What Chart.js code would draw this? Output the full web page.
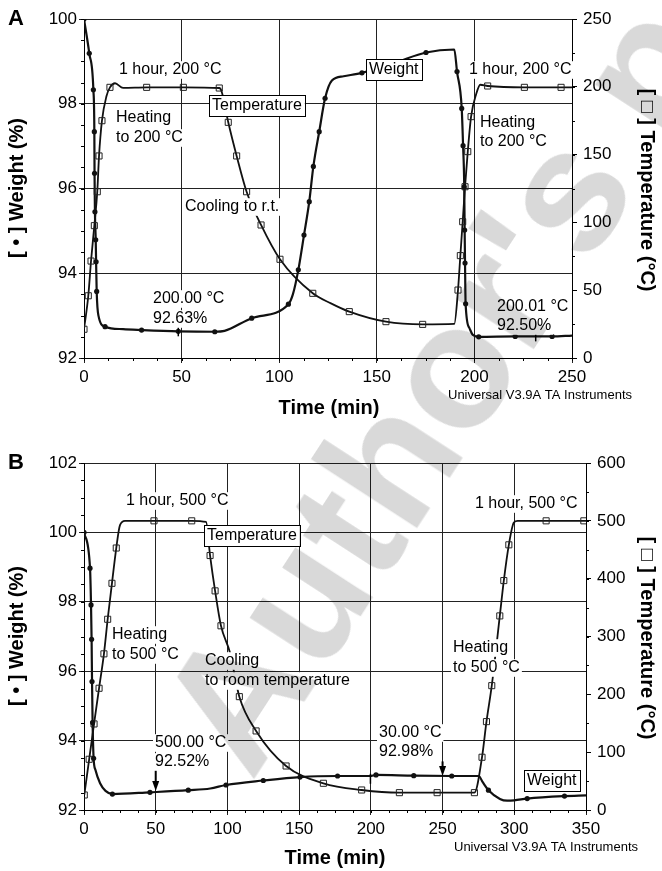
<!DOCTYPE html>
<html>
<head>
<meta charset="utf-8">
<script src="https://cdn.jsdelivr.net/npm/chart.js@4.4.1/dist/chart.umd.min.js"></script>
<style>
  body { margin: 0; background: #fff; width: 662px; height: 871px; position: relative; overflow: hidden; }
  canvas { position: absolute; left: 0; }
  #graficoA { top: 0; }
  #graficoB { top: 432px; }
  #marca {
    position: absolute; left: 252px; top: 635px;
    font: bold 175px 'Liberation Sans', Arial, sans-serif; line-height: 1;
    color: #d9d9d9; white-space: nowrap;
    transform-origin: 0 148px; transform: rotate(-57deg);
    mix-blend-mode: multiply; pointer-events: none;
  }
</style>
</head>
<body>
<canvas id="graficoA" width="662" height="432"></canvas>
<canvas id="graficoB" width="662" height="439"></canvas>
<div id="marca">Author's personal copy</div>
<script>
// ---- painel A (200 °C) ----
const tempoPesoA = [0, 2.7, 4.8, 5.3, 5.4, 5.6, 6.0, 6.2, 6.5, 7.4, 10.8, 20, 29.5, 48.3, 67, 72, 85.9, 104.7, 107, 109.8, 112.7, 115.4, 117.5, 120.5, 123.5, 127, 133, 142.4, 160, 175.2, 189.7, 191.1, 193.5, 194.2, 194.8, 195.0, 195.2, 195.5, 197.4, 199.1, 202.2, 220.9, 239.8, 250];
const pesoA = [100, 99.19, 98.33, 97.34, 96.36, 95.45, 94.79, 94.27, 93.57, 93.0, 92.74, 92.68, 92.66, 92.63, 92.62, 92.64, 92.94, 93.27, 93.5, 94.08, 94.9, 95.69, 96.52, 97.34, 98.13, 98.55, 98.65, 98.73, 98.98, 99.21, 99.28, 98.76, 97.89, 97.01, 96.04, 95.02, 94.24, 93.28, 92.71, 92.55, 92.50, 92.51, 92.51, 92.53];
const tempoMarcaPesoA = [0, 2.7, 4.8, 5.3, 5.4, 5.6, 6.0, 6.2, 6.5, 10.8, 29.5, 48.3, 67, 85.9, 104.7, 109.8, 112.7, 115.4, 117.5, 120.5, 123.5, 142.4, 175.2, 191.1, 193.5, 194.2, 194.8, 195.0, 195.2, 195.5, 202.2, 220.9, 239.8];
const marcaPesoA = [100, 99.19, 98.33, 97.34, 96.36, 95.45, 94.79, 94.27, 93.57, 92.74, 92.66, 92.63, 92.62, 92.94, 93.27, 94.08, 94.9, 95.69, 96.52, 97.34, 98.13, 98.73, 99.21, 98.76, 97.89, 97.01, 96.04, 95.02, 94.24, 93.28, 92.50, 92.51, 92.51];

const tempoTempA = [0, 2.2, 3.6, 5.3, 6.8, 7.7, 9.2, 11.5, 13.3, 15.9, 20, 32.1, 50.9, 69.3, 70.5, 73.9, 78.2, 83.3, 90.7, 100.4, 117.2, 126.5, 135.9, 154.7, 173.5, 189.7, 191.6, 192.8, 194, 195.2, 196.6, 198.3, 201, 203, 206.8, 225.6, 244.4, 250];
const tempA = [21.2, 45.9, 71.5, 97.6, 122.6, 149, 175, 193, 199.6, 202.6, 199.2, 199.6, 199.6, 199.1, 196.5, 173.8, 149, 122.6, 98.1, 72.8, 47.7, 40.3, 34.2, 26.8, 24.8, 25.1, 50.1, 75.5, 100.5, 126.3, 152.2, 178, 195, 201.5, 200.6, 199.6, 199.6, 199.6];
const tempoMarcaTempA = [0, 2.2, 3.6, 5.3, 6.8, 7.7, 9.2, 13.3, 32.1, 50.9, 69.3, 73.9, 78.2, 83.3, 90.7, 100.4, 117.2, 135.9, 154.7, 173.5, 191.6, 192.8, 194, 195.2, 196.6, 198.3, 206.8, 225.6, 244.4];
const marcaTempA = [21.2, 45.9, 71.5, 97.6, 122.6, 149, 175, 199.6, 199.6, 199.6, 199.1, 173.8, 149, 122.6, 98.1, 72.8, 47.7, 34.2, 26.8, 24.8, 50.1, 75.5, 100.5, 126.3, 152.2, 178, 200.6, 199.6, 199.6];

const tempoTracoA = [48.3, 231.4];
const pesoTracoA = [92.63, 92.51];

// ---- painel B (500 °C) ----
const tempoPesoB = [0, 4.2, 4.9, 5.3, 5.6, 6.0, 6.7, 8, 11.2, 15, 19.8, 46, 72.7, 88, 99, 125, 150.6, 176.8, 199.5, 203.6, 229.9, 256.4, 275.2, 278, 282, 290, 295, 300, 309, 335, 350];
const pesoB = [100, 98.97, 97.91, 96.92, 95.70, 94.52, 93.49, 93.15, 92.77, 92.55, 92.46, 92.51, 92.57, 92.62, 92.72, 92.85, 92.95, 92.98, 92.98, 93.01, 92.99, 92.98, 92.98, 92.8, 92.57, 92.32, 92.27, 92.28, 92.33, 92.40, 92.42];
const tempoMarcaPesoB = [0, 4.2, 4.9, 5.3, 5.6, 6.0, 6.7, 19.8, 46, 72.7, 99, 125, 150.6, 176.8, 203.6, 229.9, 256.4, 282, 309, 335];
const marcaPesoB = [100, 98.97, 97.91, 96.92, 95.70, 94.52, 93.49, 92.46, 92.51, 92.57, 92.72, 92.85, 92.95, 92.98, 93.01, 92.99, 92.98, 92.57, 92.33, 92.40];

const tempoTempB = [0.2, 3.6, 7.0, 10.5, 13.9, 16.5, 19.5, 22.5, 25.1, 28.6, 48.8, 75.1, 85.1, 87.9, 91.4, 95.5, 101.8, 108.3, 120, 140.9, 166.9, 193.6, 219.9, 246.2, 272.2, 277.5, 280.6, 284.3, 289.9, 292.7, 296.2, 299.7, 302.4, 322.2, 348.5, 350];
const tempB = [26, 87.7, 148.8, 210.5, 270, 329.8, 392, 453, 492.7, 500, 500, 500, 498, 440, 378.9, 318.5, 272, 196, 136.7, 76.1, 46.2, 34.6, 30, 30, 30, 91.2, 152.8, 215, 335.6, 396.7, 458.5, 497, 500, 500, 500, 500];
const tempoMarcaTempB = [0.2, 3.6, 7.0, 10.5, 13.9, 16.5, 19.5, 22.5, 48.8, 75.1, 87.9, 91.4, 95.5, 108.3, 120, 140.9, 166.9, 193.6, 219.9, 246.2, 272.2, 277.5, 280.6, 284.3, 289.9, 292.7, 296.2, 322.2, 348.5];
const marcaTempB = [26, 87.7, 148.8, 210.5, 270, 329.8, 392, 453, 500, 500, 440, 378.9, 318.5, 196, 136.7, 76.1, 46.2, 34.6, 30, 30, 30, 91.2, 152.8, 215, 335.6, 396.7, 458.5, 500, 500];

const tempoTracoB = [199.7];
const pesoTracoB = [92.9];

const setaTempoB = [50, 250];
const setaInicioB = [93.32, 93.4];
const setaPontaB = [92.55, 92.98];

const fonte = "'Liberation Sans', Arial, Helvetica, sans-serif";
Chart.defaults.font.family = fonte;
Chart.defaults.color = '#000';

const pontos = (tempos, valores) => tempos.map((t, i) => ({ x: t, y: valores[i] }));

function escreve(ctx, item) {
    const tam = item.tam || 16;
    ctx.save();
    ctx.font = (item.negrito ? 'bold ' : '') + tam + 'px ' + fonte;
    ctx.translate(item.x, item.y);
    if (item.giro) ctx.rotate(item.giro);
    ctx.textBaseline = 'middle';
    ctx.textAlign = item.centro ? 'center' : 'left';
    const larg = ctx.measureText(item.texto).width;
    const x0 = item.centro ? -larg / 2 : 0;
    if (item.fundo) {
        ctx.fillStyle = '#fff';
        ctx.fillRect(x0 - 2, -tam * 0.55, larg + 4, tam * 1.1);
    }
    if (item.caixa) {
        ctx.fillStyle = '#fff';
        ctx.fillRect(x0 - 3, -tam * 0.66, larg + 6, tam * 1.32);
        ctx.strokeStyle = '#000';
        ctx.lineWidth = 1;
        ctx.strokeRect(Math.round(x0 - 3) + 0.5, Math.round(-tam * 0.66) + 0.5, Math.round(larg + 6), Math.round(tam * 1.32));
    }
    ctx.fillStyle = '#000';
    ctx.fillText(item.texto, 0, 0);
    ctx.restore();
}

function tracinhos(ctx, escala, passo, lado, area) {
    ctx.beginPath();
    for (let v = escala.min; v <= escala.max + 1e-9; v += passo) {
        const p = Math.round(escala.getPixelForValue(v)) + 0.5;
        if (lado === 'baixo') { ctx.moveTo(p, area.bottom); ctx.lineTo(p, area.bottom + 3); }
        if (lado === 'esq') { ctx.moveTo(area.left - 3, p); ctx.lineTo(area.left, p); }
        if (lado === 'dir') { ctx.moveTo(area.right, p); ctx.lineTo(area.right + 3, p); }
    }
    ctx.stroke();
}

const anotacoes = {
    id: 'anotacoes',
    afterDraw(chart, args, opts) {
        const ctx = chart.ctx;
        const area = chart.chartArea;
        const { x, y, y2 } = chart.scales;
        ctx.save();
        ctx.strokeStyle = '#000';
        ctx.lineWidth = 1;
        tracinhos(ctx, x, opts.menorX, 'baixo', area);
        tracinhos(ctx, y, opts.menorY, 'esq', area);
        tracinhos(ctx, y2, opts.menorY2, 'dir', area);

        (opts.setas || []).forEach(s => {
            const px = x.getPixelForValue(s.t);
            const y0 = y.getPixelForValue(s.de);
            const y1 = y.getPixelForValue(s.ate);
            ctx.lineWidth = 2;
            ctx.beginPath();
            ctx.moveTo(px, y0);
            ctx.lineTo(px, y1 - 8);
            ctx.stroke();
            ctx.fillStyle = '#000';
            ctx.beginPath();
            ctx.moveTo(px - 3.5, y1 - 10);
            ctx.lineTo(px + 3.5, y1 - 10);
            ctx.lineTo(px, y1);
            ctx.closePath();
            ctx.fill();
        });

        (opts.textos || []).forEach(item => escreve(ctx, item));
        ctx.restore();
    }
};

function montaGrafico(id, cfg) {
    const datasets = [
        {
            data: pontos(cfg.tempoTraco, cfg.pesoTraco), yAxisID: 'y', showLine: false,
            pointStyle: 'line', rotation: 90, pointRadius: 5, borderColor: '#000', borderWidth: 1.5
        },
        {
            data: pontos(cfg.tempoMarcaPeso, cfg.marcaPeso), yAxisID: 'y', showLine: false,
            pointStyle: 'circle', pointRadius: 2.6, pointBackgroundColor: '#111', pointBorderWidth: 0
        },
        {
            data: pontos(cfg.tempoMarcaTemp, cfg.marcaTemp), yAxisID: 'y2', showLine: false,
            pointStyle: 'rect', pointRadius: 4.3, pointBackgroundColor: 'rgba(255,255,255,0)',
            pointBorderColor: '#222', pointBorderWidth: 1
        },
        {
            data: pontos(cfg.tempoPeso, cfg.peso), yAxisID: 'y', borderColor: '#111', borderWidth: 2.2,
            pointRadius: 0, cubicInterpolationMode: 'monotone'
        },
        {
            data: pontos(cfg.tempoTemp, cfg.temp), yAxisID: 'y2', borderColor: '#111', borderWidth: 1.8,
            pointRadius: 0, cubicInterpolationMode: 'monotone'
        }
    ];

    const ticksFonte = { size: 17 };
    return new Chart(document.getElementById(id), {
        type: 'line',
        data: { datasets: datasets },
        options: {
            responsive: false,
            animation: false,
            layout: { padding: { top: cfg.topo, left: 0, right: 0, bottom: 0 } },
            plugins: {
                legend: { display: false },
                tooltip: { enabled: false },
                anotacoes: cfg.anotacoes
            },
            scales: {
                x: {
                    type: 'linear', min: 0, max: cfg.tempoMax,
                    ticks: { stepSize: 50, font: ticksFonte, color: '#000', padding: 4, maxRotation: 0 },
                    grid: { color: '#222', lineWidth: 1, tickLength: 5 },
                    border: { color: '#000', width: 1 },
                    afterFit: s => { s.height = cfg.alturaX; }
                },
                y: {
                    position: 'left', min: cfg.pesoMin, max: cfg.pesoMax,
                    ticks: { stepSize: 2, font: ticksFonte, color: '#000', padding: 2 },
                    grid: { color: '#222', lineWidth: 1, tickLength: 5 },
                    border: { color: '#000', width: 1 },
                    afterFit: s => { s.width = 84; }
                },
                y2: {
                    position: 'right', min: 0, max: cfg.tempMax,
                    ticks: { stepSize: cfg.tempPasso, font: ticksFonte, color: '#000', padding: 6 },
                    grid: { drawOnChartArea: false, color: '#000', tickLength: 5 },
                    border: { color: '#000', width: 1 },
                    afterFit: s => { s.width = cfg.larguraDir; }
                }
            }
        },
        plugins: [anotacoes]
    });
}

const graficoA = montaGrafico('graficoA', {
    tempoPeso: tempoPesoA, peso: pesoA, tempoMarcaPeso: tempoMarcaPesoA, marcaPeso: marcaPesoA,
    tempoTemp: tempoTempA, temp: tempA, tempoMarcaTemp: tempoMarcaTempA, marcaTemp: marcaTempA,
    tempoTraco: tempoTracoA, pesoTraco: pesoTracoA,
    tempoMax: 250, pesoMin: 92, pesoMax: 100, tempMax: 250, tempPasso: 50,
    topo: 19, alturaX: 74, larguraDir: 90,
    anotacoes: {
        menorX: 12.5, menorY: 0.5, menorY2: 25,
        textos: [
            { texto: 'A', x: 8, y: 19, tam: 22, negrito: true },
            { texto: '1 hour, 200 °C', x: 119, y: 70, fundo: true },
            { texto: 'Heating', x: 116, y: 118, fundo: true },
            { texto: 'to 200 °C', x: 116, y: 138, fundo: true },
            { texto: 'Temperature', x: 212, y: 106, caixa: true },
            { texto: 'Cooling to r.t.', x: 185, y: 207, fundo: true },
            { texto: 'Weight', x: 369, y: 70, caixa: true },
            { texto: '1 hour, 200 °C', x: 469, y: 70, fundo: true },
            { texto: 'Heating', x: 480, y: 123, fundo: true },
            { texto: 'to 200 °C', x: 480, y: 142, fundo: true },
            { texto: '200.00 °C', x: 153, y: 299, fundo: true },
            { texto: '92.63%', x: 153, y: 319, fundo: true },
            { texto: '200.01 °C', x: 497, y: 307, fundo: true },
            { texto: '92.50%', x: 497, y: 326, fundo: true },
            { texto: 'Universal V3.9A TA Instruments', x: 448, y: 395, tam: 13 },
            { texto: 'Time (min)', x: 329, y: 408, tam: 20, negrito: true, centro: true },
            { texto: '[ • ] Weight (%)', x: 17, y: 188, tam: 20, negrito: true, centro: true, giro: -Math.PI / 2 },
            { texto: '[ □ ] Temperature (°C)', x: 647, y: 190, tam: 20, negrito: true, centro: true, giro: Math.PI / 2 }
        ]
    }
});

const graficoB = montaGrafico('graficoB', {
    tempoPeso: tempoPesoB, peso: pesoB, tempoMarcaPeso: tempoMarcaPesoB, marcaPeso: marcaPesoB,
    tempoTemp: tempoTempB, temp: tempB, tempoMarcaTemp: tempoMarcaTempB, marcaTemp: marcaTempB,
    tempoTraco: tempoTracoB, pesoTraco: pesoTracoB,
    tempoMax: 350, pesoMin: 92, pesoMax: 102, tempMax: 600, tempPasso: 100,
    topo: 31, alturaX: 61, larguraDir: 76,
    anotacoes: {
        menorX: 12.5, menorY: 0.5, menorY2: 50,
        setas: setaTempoB.map((t, i) => ({ t: t, de: setaInicioB[i], ate: setaPontaB[i] })),
        textos: [
            { texto: 'B', x: 8, y: 31, tam: 22, negrito: true },
            { texto: '1 hour, 500 °C', x: 126, y: 69, fundo: true },
            { texto: 'Temperature', x: 207, y: 104, caixa: true },
            { texto: 'Heating', x: 112, y: 203, fundo: true },
            { texto: 'to 500 °C', x: 112, y: 223, fundo: true },
            { texto: 'Cooling', x: 205, y: 229, fundo: true },
            { texto: 'to room temperature', x: 205, y: 249, fundo: true },
            { texto: '500.00 °C', x: 155, y: 311, fundo: true },
            { texto: '92.52%', x: 155, y: 330, fundo: true },
            { texto: '30.00 °C', x: 379, y: 301, fundo: true },
            { texto: '92.98%', x: 379, y: 320, fundo: true },
            { texto: '1 hour, 500 °C', x: 475, y: 72, fundo: true },
            { texto: 'Heating', x: 453, y: 216, fundo: true },
            { texto: 'to 500 °C', x: 453, y: 236, fundo: true },
            { texto: 'Weight', x: 527, y: 349, caixa: true },
            { texto: 'Universal V3.9A TA Instruments', x: 454, y: 415, tam: 13 },
            { texto: 'Time (min)', x: 335, y: 426, tam: 20, negrito: true, centro: true },
            { texto: '[ • ] Weight (%)', x: 17, y: 204, tam: 20, negrito: true, centro: true, giro: -Math.PI / 2 },
            { texto: '[ □ ] Temperature (°C)', x: 647, y: 206, tam: 20, negrito: true, centro: true, giro: Math.PI / 2 }
        ]
    }
});
</script>
</body>
</html>
